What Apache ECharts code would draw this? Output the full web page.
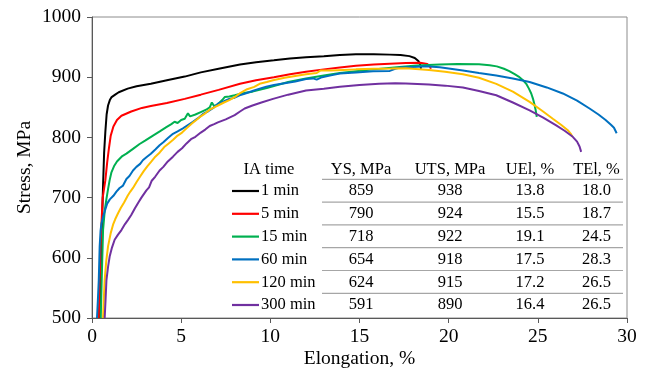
<!DOCTYPE html>
<html>
<head>
<meta charset="utf-8">
<script src="https://cdn.jsdelivr.net/npm/echarts@6/dist/echarts.min.js"></script>
<style>
  html, body { margin: 0; padding: 0; background: #fff; }
  #chart { width: 649px; height: 379px; }
</style>
</head>
<body>
<div id="chart"></div>
<script>
// Intercritical annealing (IA) times and tensile properties
const iaTimes = ['1 min', '5 min', '15 min', '60 min', '120 min', '300 min'];
const ysMPa  = [859, 790, 718, 654, 624, 591];
const utsMPa = [938, 924, 922, 918, 915, 890];
const uelPct = ['13.8', '15.5', '19.1', '17.5', '17.2', '16.4'];
const telPct = ['18.0', '18.7', '24.5', '28.3', '26.5', '26.5'];

// Engineering stress–strain curves: [elongation %, stress MPa]
const curve1min = [
  [0.45, 500], [0.52, 600], [0.57, 670], [0.62, 720], [0.68, 775], [0.75, 810], [0.82, 838],
  [0.9, 853], [1.0, 862], [1.1, 867], [1.3, 871], [1.5, 875], [2.0, 881], [2.5, 885],
  [3.3, 889], [4.2, 895], [5.2, 901], [6.1, 908], [7.1, 914], [8.3, 921], [9.2, 925],
  [10.2, 928], [11.1, 931], [12.0, 933], [13.0, 935], [13.9, 937], [14.8, 938], [15.8, 938],
  [16.7, 937.5], [17.3, 937], [17.8, 935], [18.1, 932], [18.3, 927], [18.4, 921], [18.45, 914]
];
const curve5min = [
  [0.38, 500], [0.45, 580], [0.52, 650], [0.6, 700], [0.75, 729], [0.85, 758], [0.95, 782],
  [1.05, 803], [1.2, 818], [1.4, 829], [1.65, 836], [2.2, 843], [2.8, 849], [3.3, 852],
  [4.2, 857], [5.2, 864], [6.1, 871], [7.1, 879], [8.3, 889], [9.2, 895], [10.2, 900],
  [11.1, 905], [12.0, 909], [13.0, 913], [13.9, 916], [14.8, 919], [15.8, 921], [16.7, 922.5],
  [17.6, 923.5], [18.4, 924], [18.8, 922], [18.95, 918], [19.0, 914]
];
const curve15min = [
  [0.49, 500], [0.55, 570], [0.62, 646], [0.72, 680], [0.81, 698], [0.9, 714], [0.99, 729],
  [1.09, 742], [1.25, 753], [1.4, 760], [1.7, 769], [1.93, 773], [2.3, 781], [2.67, 789],
  [3.0, 795], [3.42, 803], [3.8, 810], [4.17, 817], [4.45, 822], [4.63, 826], [4.8, 824],
  [5.0, 829], [5.2, 831], [5.38, 840], [5.5, 835], [5.8, 838], [6.1, 842], [6.4, 846],
  [6.6, 850], [6.72, 858], [6.85, 852], [7.06, 855], [7.3, 862], [7.44, 867], [7.7, 868],
  [8.0, 870], [8.28, 872], [8.6, 874], [9.0, 876], [9.4, 879], [9.8, 882], [10.15, 885],
  [11.0, 892], [12.0, 898], [13.0, 903], [13.9, 907], [14.8, 910], [15.76, 913], [16.5, 915],
  [17.25, 917], [18.2, 919.5], [19.5, 921], [20.5, 922], [21.7, 921.5], [22.3, 920], [22.7, 918],
  [23.1, 914], [23.4, 910], [23.7, 905], [23.97, 900], [24.2, 894], [24.35, 889], [24.5, 881],
  [24.63, 873], [24.73, 864], [24.8, 856], [24.88, 845], [24.94, 834]
];
const curve60min = [
  [0.28, 500], [0.33, 530], [0.38, 563], [0.43, 619], [0.48, 645], [0.53, 657], [0.62, 668],
  [0.71, 677], [0.85, 690], [1.0, 697], [1.2, 703], [1.37, 710], [1.55, 716], [1.74, 720],
  [1.93, 731], [2.1, 736], [2.3, 745], [2.49, 751], [2.7, 756], [2.85, 762], [3.05, 767],
  [3.3, 773], [3.55, 780], [3.79, 787], [4.0, 792], [4.26, 799], [4.54, 806], [4.8, 810],
  [5.1, 815], [5.4, 821], [5.66, 826], [5.95, 832], [6.22, 839], [6.5, 843], [6.8, 849],
  [7.06, 856], [7.4, 860], [7.7, 864], [8.0, 866], [8.28, 870], [8.6, 873], [9.0, 877],
  [9.4, 881], [9.77, 884], [10.2, 887], [10.8, 890], [11.4, 893], [12.0, 897], [12.4, 898],
  [12.6, 896], [12.9, 900], [13.4, 903], [13.9, 906], [14.8, 908], [15.76, 910], [16.7, 910.5],
  [17.0, 914], [17.3, 916], [18.0, 917], [18.7, 918], [19.5, 916.5], [20.8, 911], [21.7, 907],
  [22.67, 903], [23.6, 898], [24.54, 892], [25.5, 883], [26.4, 873], [27.2, 861], [27.9, 848],
  [28.4, 838], [28.8, 829], [29.1, 821], [29.27, 816], [29.42, 807]
];
const curve120min = [
  [0.62, 500], [0.66, 530], [0.71, 563], [0.8, 595], [0.9, 619], [1.05, 641], [1.18, 655],
  [1.3, 664], [1.46, 674], [1.62, 683], [1.8, 692], [2.0, 703], [2.15, 710], [2.3, 716],
  [2.5, 726], [2.7, 735], [2.9, 744], [3.1, 752], [3.3, 759], [3.55, 768], [3.8, 775],
  [4.05, 784], [4.3, 790], [4.55, 796], [4.8, 803], [5.05, 808], [5.3, 815], [5.6, 823],
  [5.85, 829], [6.1, 835], [6.35, 840], [6.6, 846], [6.85, 850], [7.06, 853], [7.4, 858],
  [7.7, 862], [8.0, 867], [8.28, 873], [8.7, 880], [9.1, 884], [9.4, 889], [9.8, 892],
  [10.15, 895], [10.8, 899], [11.4, 902], [12.0, 905], [12.6, 907], [12.8, 911], [13.4, 911],
  [14.1, 912], [14.8, 913], [15.8, 914], [16.8, 914.5], [17.6, 915], [18.9, 912], [19.8, 909],
  [20.8, 905], [21.7, 899], [22.67, 889], [23.6, 876], [24.54, 859], [25.2, 845], [25.84, 831],
  [26.3, 821], [26.68, 812], [26.85, 806], [26.93, 801]
];
const curve300min = [
  [0.71, 500], [0.76, 530], [0.81, 563], [0.9, 585], [0.99, 602], [1.12, 617], [1.27, 630],
  [1.45, 638], [1.65, 646], [1.85, 656], [2.02, 663], [2.2, 671], [2.4, 682], [2.6, 692],
  [2.77, 700], [3.05, 712], [3.2, 717], [3.35, 728], [3.55, 735], [3.79, 745], [4.0, 751],
  [4.25, 760], [4.54, 768], [4.8, 776], [5.05, 782], [5.3, 790], [5.55, 797], [5.8, 801],
  [6.1, 808], [6.35, 813], [6.6, 819], [6.85, 822], [7.06, 825], [7.5, 830], [8.0, 837],
  [8.3, 843], [8.56, 848], [9.0, 853], [9.5, 858], [10.15, 864], [11.0, 871], [12.0, 878],
  [13.0, 881], [13.9, 884], [15.0, 887], [16.1, 889], [17.0, 890], [17.6, 889.5], [18.9, 888],
  [19.8, 886], [20.8, 883], [21.7, 877], [22.67, 870], [23.6, 858], [24.54, 845], [25.3, 833],
  [26.03, 820], [26.5, 811], [26.96, 801], [27.2, 793], [27.34, 785], [27.43, 776]
];

// Axis tick values
const xTicks = [0, 5, 10, 15, 20, 25, 30];
const yTicks = [500, 600, 700, 800, 900, 1000];

const curves = [curve1min, curve5min, curve15min, curve60min, curve120min, curve300min];
const lineColors = ['#000000', '#ff0000', '#00b050', '#0070c0', '#ffc000', '#7030a0'];

const FONT = '"Liberation Serif", "Times New Roman", serif';
const chart = echarts.init(document.getElementById('chart'), null, { renderer: 'canvas' });

// Inset table: legend swatches + property columns
const tableFont = 16.5;
const rowY0 = 191, rowStep = 22.8, headerY = 170;
const colX = { legendLine0: 232, legendLine1: 259, label: 261, ys: 361, uts: 450, uel: 530, tel: 596.5 };
const ruleX0 = 322, ruleX1 = 623;

function txt(text, x, y, align) {
  return {
    type: 'text', silent: true, z: 100,
    style: {
      text: text, x: x, y: y, align: align || 'center', verticalAlign: 'middle',
      fontFamily: FONT, fontSize: tableFont, fill: '#000'
    }
  };
}

const graphics = [];
graphics.push(txt('IA time', 269, headerY));
graphics.push(txt('YS, MPa', colX.ys, headerY));
graphics.push(txt('UTS, MPa', colX.uts, headerY));
graphics.push(txt('UEl, %', colX.uel, headerY));
graphics.push(txt('TEl, %', colX.tel, headerY));
iaTimes.forEach(function (name, i) {
  const y = rowY0 + i * rowStep;
  const ruleY = y - 11.7;
  graphics.push({
    type: 'line', silent: true, z: 100,
    shape: { x1: ruleX0, y1: ruleY, x2: ruleX1, y2: ruleY },
    style: { stroke: '#a6a6a6', lineWidth: 1.2 }
  });
  graphics.push({
    type: 'line', silent: true, z: 100,
    shape: { x1: colX.legendLine0, y1: y, x2: colX.legendLine1, y2: y },
    style: { stroke: lineColors[i], lineWidth: 2.2 }
  });
  graphics.push(txt(name, colX.label, y, 'left'));
  graphics.push(txt(String(ysMPa[i]), colX.ys, y));
  graphics.push(txt(String(utsMPa[i]), colX.uts, y));
  graphics.push(txt(uelPct[i], colX.uel, y));
  graphics.push(txt(telPct[i], colX.tel, y));
});

const axisCommon = {
  axisLine: { show: true, onZero: false, lineStyle: { color: '#595959', width: 1 } },
  axisTick: { show: true, inside: false, length: 5, lineStyle: { color: '#595959' } },
  splitLine: { show: false },
  nameLocation: 'middle',
  nameMoveOverlap: false,
  nameTextStyle: { fontFamily: FONT, fontSize: 19.5, color: '#000' },
  axisLabel: { fontFamily: FONT, fontSize: 19.5, color: '#000', formatter: function (v) { return String(v); } }
};

chart.setOption({
  animation: false,
  backgroundColor: '#ffffff',
  grid: {
    left: 92, right: 22, top: 17, bottom: 61,
    show: true, borderColor: '#8c8c8c', borderWidth: 1, backgroundColor: 'transparent'
  },
  xAxis: Object.assign({}, axisCommon, {
    type: 'value',
    min: xTicks[0], max: xTicks[xTicks.length - 1], interval: xTicks[1] - xTicks[0],
    name: 'Elongation, %', nameGap: 31,
    axisLabel: Object.assign({}, axisCommon.axisLabel, { margin: 9 })
  }),
  yAxis: Object.assign({}, axisCommon, {
    type: 'value',
    min: yTicks[0], max: yTicks[yTicks.length - 1], interval: yTicks[1] - yTicks[0],
    name: 'Stress, MPa', nameGap: 57, nameRotate: 90,
    axisLabel: Object.assign({}, axisCommon.axisLabel, { margin: 11 })
  }),
  series: curves.map(function (data, i) {
    return {
      name: iaTimes[i],
      type: 'line',
      data: data,
      showSymbol: false,
      symbol: 'none',
      clip: true,
      lineStyle: { color: lineColors[i], width: 2 },
      itemStyle: { color: lineColors[i] },
      z: 2 + i
    };
  }),
  graphic: graphics
});
</script>
</body>
</html>
